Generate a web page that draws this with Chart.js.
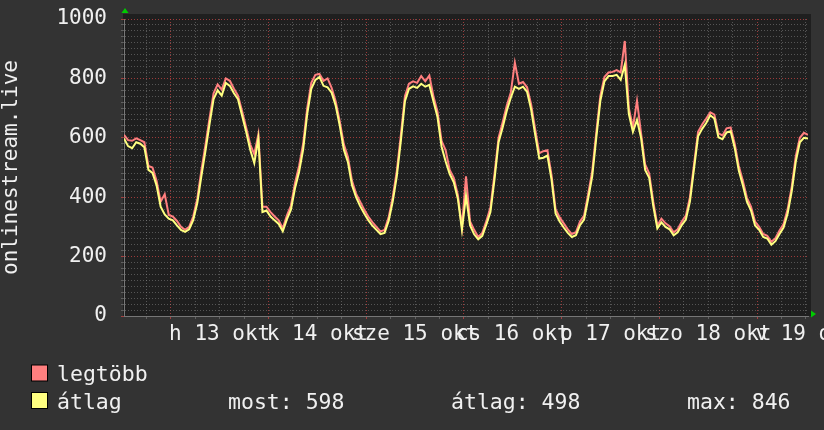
<!DOCTYPE html>
<html>
<head>
<meta charset="utf-8">
<script src="https://cdn.jsdelivr.net/npm/chart.js@4"></script>
<style>
	html, body { margin: 0; padding: 0; background: #333333; }
	canvas { display: block; }
</style>
</head>
<body>
<canvas id="graph" width="824" height="430"></canvas>
<script>
// one sample per hour, okt 12 12:30 .. okt 19 12:30
var legtobb = [
	610, 592, 590, 598, 592, 585, 505, 500, 455, 385, 410, 340, 335, 320, 300, 290, 300, 335, 395, 490,
	575, 665, 750, 780, 762, 800, 792, 765, 742, 690, 635, 578, 545, 612, 368, 368, 350, 335, 322, 295,
	338, 372, 448, 505, 580, 700, 785, 812, 815, 792, 800, 768, 722, 655, 578, 535, 455, 412, 385, 358,
	335, 316, 300, 285, 290, 332, 400, 488, 610, 740, 782, 790, 785, 808, 790, 810, 740, 688, 590, 558,
	492, 465, 408, 300, 470, 318, 290, 266, 280, 320, 365, 478, 600, 652, 708, 752, 853, 782, 788, 770,
	712, 628, 548, 555, 558, 475, 360, 332, 312, 292, 276, 282, 318, 338, 410, 488, 618, 742, 805, 820,
	822, 828, 820, 926, 700, 635, 725, 615, 510, 480, 385, 305, 328, 312, 302, 282, 292, 318, 338, 400,
	510, 620, 645, 665, 686, 678, 615, 608, 632, 635, 580, 505, 455, 398, 368, 318, 300, 276, 270, 250,
	262, 288, 310, 360, 435, 538, 600, 617, 610
];
var atlag = [
	598, 572, 565, 585, 580, 568, 492, 482, 440, 368, 342, 328, 322, 305, 290, 283, 292, 323, 380, 470,
	555, 645, 730, 760, 742, 785, 775, 750, 730, 675, 620, 560, 515, 598, 350, 355, 335, 322, 310, 285,
	325, 358, 430, 485, 560, 680, 765, 795, 805, 775, 770, 752, 708, 640, 560, 518, 440, 400, 370, 345,
	323, 304, 290, 276, 280, 320, 385, 470, 590, 723, 765, 773, 768, 782, 772, 778, 723, 670, 570, 520,
	478, 450, 395, 290, 405, 305, 275, 258, 270, 308, 350, 460, 585, 635, 690, 735, 772, 765, 772, 755,
	695, 610, 530, 533, 540, 460, 345, 318, 298, 280, 266, 272, 306, 325, 395, 470, 600, 725, 790, 808,
	808, 812, 795, 846, 680, 620, 660, 600, 492, 465, 370, 295, 315, 300, 292, 272, 282, 306, 325, 385,
	495, 605, 630, 650, 676, 665, 602, 595, 618, 622, 566, 490, 440, 385, 355, 305, 290, 266, 261, 240,
	252, 276, 298, 345, 420, 520, 585, 600, 598
];
var dayLabels = ['h 13 okt', 'k 14 okt', 'sze 15 okt', 'cs 16 okt', 'p 17 okt', 'szo 18 okt', 'v 19 okt'];
var seriesNames = ['legtöbb', 'átlag'];
var statNames = ['most', 'átlag', 'max'];
var statValues = [598, 498, 846];
var yTitle = 'onlinestream.live';

var firstMidnight = 11.5; // hours after start
var firstNoon = 23.5;

var hours = [];
for (var i = 0; i < atlag.length; i++) hours.push(i);

var RED = '#ff7f7f', YELLOW = '#ffff80';
var gridGray = 'rgba(150,150,150,0.45)', gridRed = 'rgba(210,70,70,0.7)';
var mono = '"DejaVu Sans Mono", monospace';

Chart.defaults.font.family = mono;
Chart.defaults.color = '#f0f0f0';

var backdrop = {
	id: 'backdrop',
	beforeDraw: function(chart) {
		var c = chart.ctx, a = chart.chartArea;
		c.save();
		c.fillStyle = '#333333';
		c.fillRect(0, 0, chart.width, chart.height);
		c.fillStyle = '#1f1f1f';
		c.fillRect(a.left - 1, a.top - 5, a.right - a.left + 4, a.bottom - a.top + 5);
		c.restore();
	}
};

var extras = {
	id: 'extras',
	afterDraw: function(chart) {
		var c = chart.ctx, a = chart.chartArea;
		c.save();
		// axis title
		c.font = '21px ' + mono;
		c.fillStyle = '#f0f0f0';
		c.textAlign = 'center';
		c.textBaseline = 'middle';
		c.translate(12, (a.top + a.bottom) / 2);
		c.rotate(-Math.PI / 2);
		c.fillText(yTitle, 0, 0);
		c.restore();

		// arrows
		c.save();
		c.fillStyle = '#00cc00';
		c.beginPath();
		c.moveTo(a.left + 1, a.top - 11);
		c.lineTo(a.left - 2.5, a.top - 6);
		c.lineTo(a.left + 4.5, a.top - 6);
		c.closePath();
		c.fill();
		c.beginPath();
		c.moveTo(a.right + 8, a.bottom - 2);
		c.lineTo(a.right + 3, a.bottom - 5.5);
		c.lineTo(a.right + 3, a.bottom + 1.5);
		c.closePath();
		c.fill();
		c.restore();

		// legend
		var colors = [RED, YELLOW];
		var rows = [381, 408.5];
		c.save();
		c.font = '21.5px ' + mono;
		c.textBaseline = 'alphabetic';
		for (var k = 0; k < seriesNames.length; k++) {
			c.fillStyle = colors[k];
			c.fillRect(31.5, rows[k] - 16, 16, 16);
			c.strokeStyle = '#000';
			c.lineWidth = 1;
			c.strokeRect(31.5, rows[k] - 16, 16, 16);
			c.fillStyle = '#f0f0f0';
			c.fillText(seriesNames[k], 57, rows[k]);
		}
		var sx = [228, 451, 687];
		for (var s = 0; s < statNames.length; s++) {
			c.fillText(statNames[s] + ': ' + statValues[s], sx[s], rows[1]);
		}
		c.restore();
	}
};

var ctx = document.getElementById('graph').getContext('2d');
var graph = new Chart(ctx, {
	type: 'line',
	data: {
		datasets: [{
			label: seriesNames[0],
			data: hours.map(function(h, i) { return {x: h, y: legtobb[i]}; }),
			borderColor: RED,
			borderWidth: 2,
			pointRadius: 0,
			order: 2
		}, {
			label: seriesNames[1],
			data: hours.map(function(h, i) { return {x: h, y: atlag[i]}; }),
			borderColor: YELLOW,
			borderWidth: 2,
			pointRadius: 0,
			order: 1
		}]
	},
	options: {
		responsive: false,
		animation: false,
		devicePixelRatio: 1,
		events: [],
		layout: { padding: { top: 19, right: 16, left: 0, bottom: 0 } },
		plugins: { legend: { display: false }, tooltip: { enabled: false } },
		scales: {
			x: {
				type: 'linear',
				min: 0,
				max: hours[hours.length - 1],
				afterBuildTicks: function(scale) {
					var t = [];
					for (var h = firstMidnight - 6; h < scale.max; h += 6) t.push({value: h});
					scale.ticks = t;
				},
				afterFit: function(scale) {
					scale.height = 114;
					scale.paddingLeft = 0;
					scale.paddingRight = 0;
				},
				ticks: {
					autoSkip: false,
					maxRotation: 0,
					minRotation: 0,
					padding: 3,
					color: '#f0f0f0',
					font: { size: 21, family: mono },
					callback: function(v) {
						var d = (v - firstNoon) / 24;
						return (Number.isInteger(d) && d >= 0 && d < dayLabels.length) ? dayLabels[d] : '';
					}
				},
				grid: {
					tickLength: 3,
					color: function(c) {
						return c.tick && (c.tick.value - firstMidnight) % 24 === 0 ? gridRed : gridGray;
					}
				},
				border: { display: true, color: '#777', width: 1, dash: [1, 2] }
			},
			y: {
				min: 0,
				max: 1000,
				afterBuildTicks: function(scale) {
					var t = [];
					for (var v = 0; v <= 1000; v += 20) t.push({value: v});
					scale.ticks = t;
				},
				afterFit: function(scale) {
					scale.width = 124;
					scale.paddingTop = 0;
					scale.paddingBottom = 0;
				},
				ticks: {
					autoSkip: false,
					padding: 14,
					color: '#f0f0f0',
					font: { size: 21, family: mono },
					callback: function(v) { return v % 200 === 0 ? v : ''; }
				},
				grid: {
					tickLength: 3,
					color: function(c) {
						return c.tick && c.tick.value % 200 === 0 ? gridRed : gridGray;
					}
				},
				border: { display: true, color: '#777', width: 1, dash: [1, 2] }
			}
		}
	},
	plugins: [backdrop, extras]
});
</script>
</body>
</html>
